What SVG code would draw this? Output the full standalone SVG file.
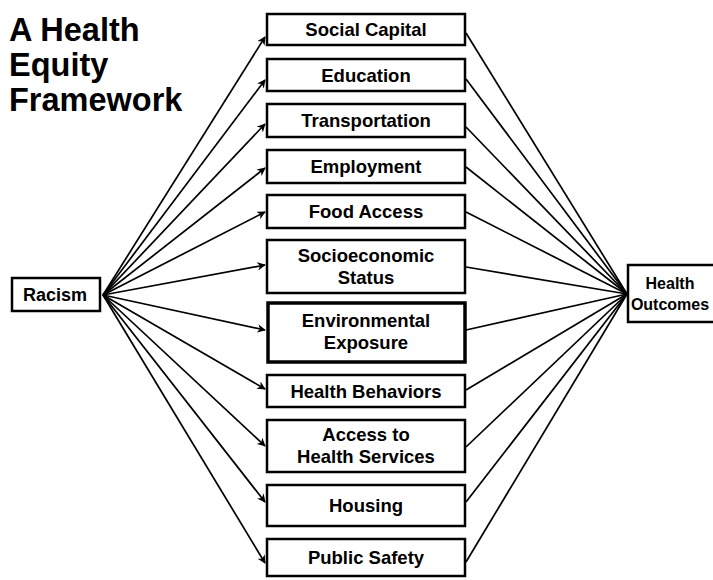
<svg xmlns="http://www.w3.org/2000/svg" width="713" height="580" viewBox="0 0 713 580">
<style>
.box{fill:#fff;stroke:#000;stroke-width:2.5}
.thick{stroke-width:3.5}
.t{font-family:"Liberation Sans",Arial,sans-serif;font-weight:bold;font-size:18.5px;fill:#000;text-anchor:middle}
.title{font-family:"Liberation Sans",Arial,sans-serif;font-weight:bold;font-size:32.5px;fill:#000}
.c line{stroke:#000;stroke-width:1.7}
</style>
<defs>
<marker id="ah" viewBox="0 0 10 10" refX="9" refY="5" markerWidth="5" markerHeight="5" orient="auto" markerUnits="strokeWidth">
<path d="M0,0 L10,5 L0,10 L3,5 z" fill="#000"/>
</marker>
</defs>
<rect width="713" height="580" fill="#fff"/>
<g id="title">
<text class="title" x="9" y="41">A Health</text>
<text class="title" x="9" y="76">Equity</text>
<text class="title" x="9" y="111">Framework</text>
</g>
<g class="c" id="connectors">
<line x1="103" y1="295" x2="265" y2="37" marker-end="url(#ah)"/>
<line x1="103" y1="295" x2="265" y2="80" marker-end="url(#ah)"/>
<line x1="103" y1="295" x2="265" y2="124" marker-end="url(#ah)"/>
<line x1="103" y1="295" x2="265" y2="168" marker-end="url(#ah)"/>
<line x1="103" y1="295" x2="265" y2="212" marker-end="url(#ah)"/>
<line x1="103" y1="295" x2="265" y2="265" marker-end="url(#ah)"/>
<line x1="103" y1="295" x2="265" y2="330" marker-end="url(#ah)"/>
<line x1="103" y1="295" x2="265" y2="389" marker-end="url(#ah)"/>
<line x1="103" y1="295" x2="265" y2="446" marker-end="url(#ah)"/>
<line x1="103" y1="295" x2="265" y2="502" marker-end="url(#ah)"/>
<line x1="103" y1="295" x2="265" y2="563" marker-end="url(#ah)"/>
<line x1="466" y1="33" x2="627" y2="294"/>
<line x1="466" y1="79" x2="627" y2="294"/>
<line x1="466" y1="127" x2="627" y2="294"/>
<line x1="466" y1="167" x2="627" y2="294"/>
<line x1="466" y1="212" x2="627" y2="294"/>
<line x1="466" y1="267" x2="627" y2="294"/>
<line x1="466" y1="330" x2="627" y2="294"/>
<line x1="466" y1="390" x2="627" y2="294"/>
<line x1="466" y1="447" x2="627" y2="294"/>
<line x1="466" y1="502" x2="627" y2="294"/>
<line x1="466" y1="562" x2="627" y2="294"/>
</g>
<g id="racism"><rect class="box" x="12" y="278" width="88" height="33"/><text class="t" x="55" y="301" style="font-size:18px">Racism</text></g>
<g id="outcomes"><rect class="box" x="628" y="265" width="95" height="57"/><text class="t" x="670" y="289" style="font-size:16px">Health</text><text class="t" x="670" y="310" style="font-size:16px">Outcomes</text></g>
<g id="social-capital"><rect class="box" x="267" y="14" width="198" height="31"/><text class="t" x="366" y="36">Social Capital</text></g>
<g id="education"><rect class="box" x="267" y="59" width="198" height="32"/><text class="t" x="366" y="82">Education</text></g>
<g id="transportation"><rect class="box" x="267" y="104" width="198" height="33"/><text class="t" x="366" y="127">Transportation</text></g>
<g id="employment"><rect class="box" x="267" y="150" width="198" height="33"/><text class="t" x="366" y="173">Employment</text></g>
<g id="food-access"><rect class="box" x="267" y="195" width="198" height="33"/><text class="t" x="366" y="218">Food Access</text></g>
<g id="ses"><rect class="box" x="267" y="240" width="198" height="53"/><text class="t" x="366" y="262">Socioeconomic</text><text class="t" x="366" y="284">Status</text></g>
<g id="environmental"><rect class="box thick" x="268" y="303" width="197" height="59"/><text class="t" x="366" y="327">Environmental</text><text class="t" x="366" y="349">Exposure</text></g>
<g id="health-behaviors"><rect class="box" x="267" y="375" width="198" height="32"/><text class="t" x="366" y="398">Health Behaviors</text></g>
<g id="access"><rect class="box" x="267" y="420" width="198" height="52"/><text class="t" x="366" y="441">Access to</text><text class="t" x="366" y="463">Health Services</text></g>
<g id="housing"><rect class="box" x="267" y="485" width="198" height="41"/><text class="t" x="366" y="512">Housing</text></g>
<g id="public-safety"><rect class="box" x="267" y="539" width="198" height="37"/><text class="t" x="366" y="564">Public Safety</text></g>
</svg>
